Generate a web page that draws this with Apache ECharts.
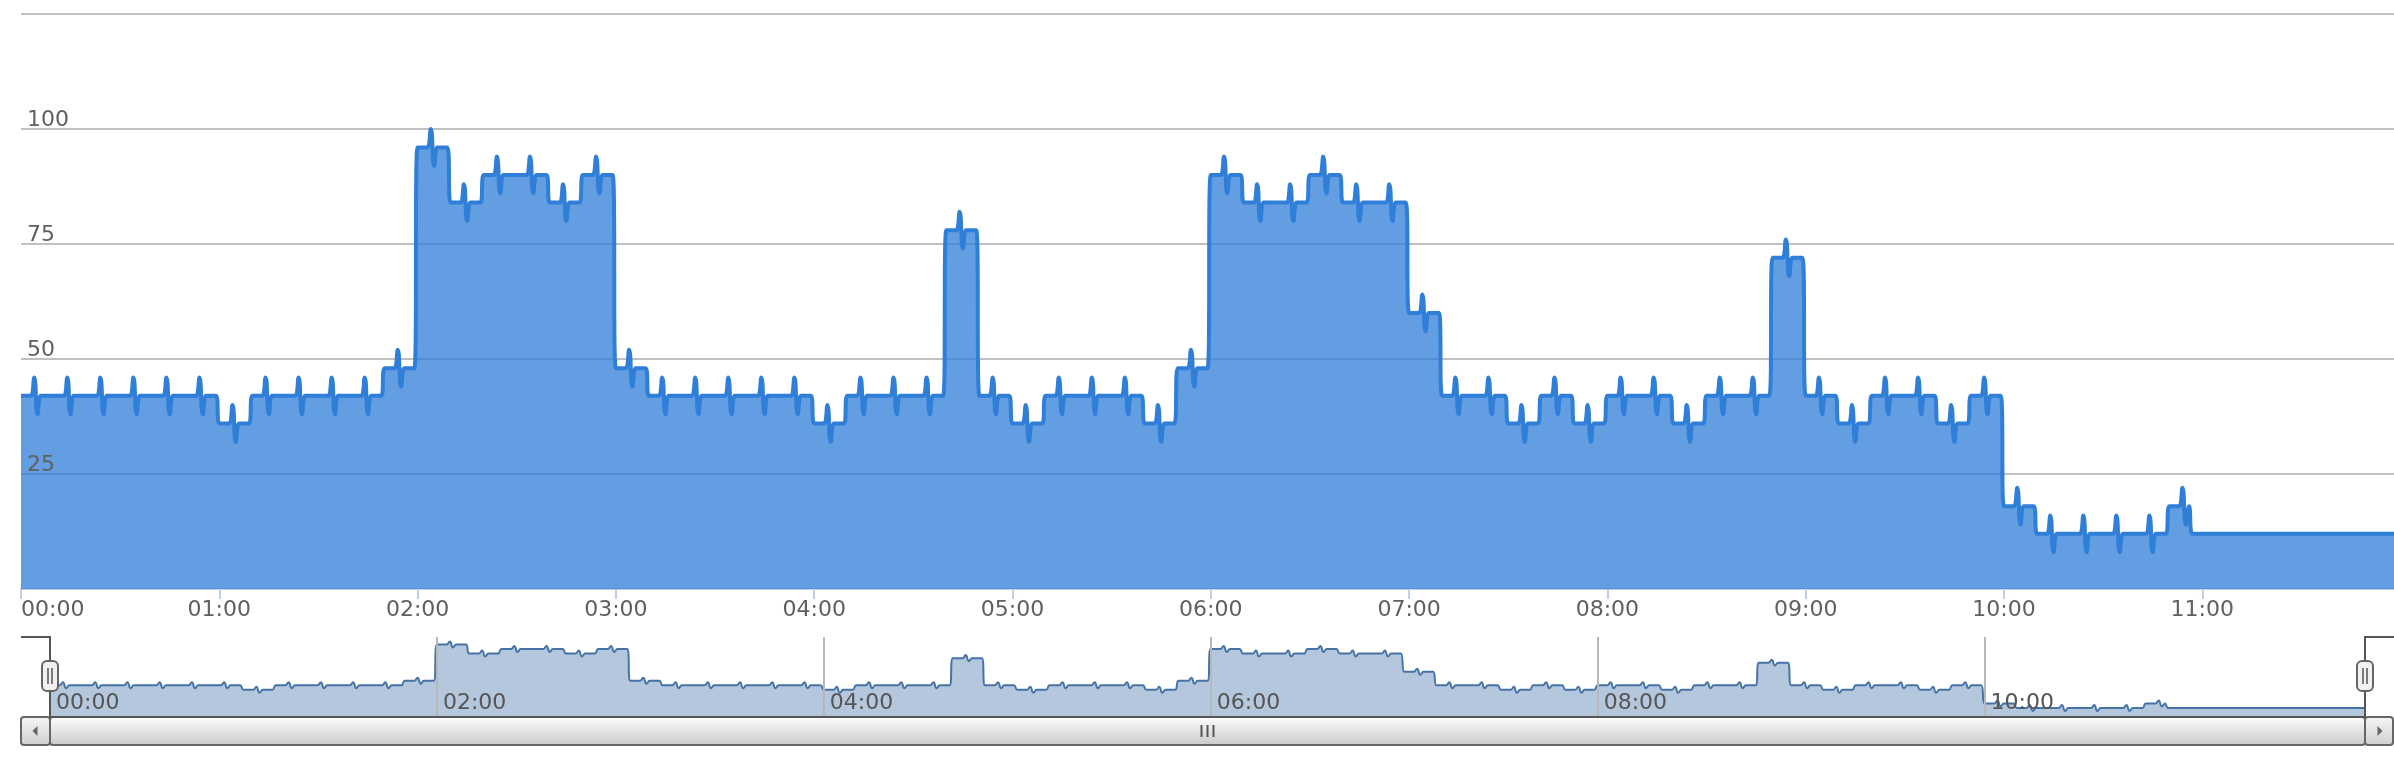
<!DOCTYPE html>
<html>
<head>
<meta charset="utf-8">
<script src="https://cdn.jsdelivr.net/npm/echarts@6/dist/echarts.min.js"></script>
<style>
html,body{margin:0;padding:0;background:#ffffff;}
#chart{width:2394px;height:766px;}
</style>
</head>
<body>
<div id="chart"></div>
<script>
// ---- data ----
// 10-minute blocks (start time) and their levels
const blockStarts = [
  '00:00','00:10','00:20','00:30','00:40','00:50',
  '01:00','01:10','01:20','01:30','01:40','01:50',
  '02:00','02:10','02:20','02:30','02:40','02:50',
  '03:00','03:10','03:20','03:30','03:40','03:50',
  '04:00','04:10','04:20','04:30','04:40','04:50',
  '05:00','05:10','05:20','05:30','05:40','05:50',
  '06:00','06:10','06:20','06:30','06:40','06:50',
  '07:00','07:10','07:20','07:30','07:40','07:50',
  '08:00','08:10','08:20','08:30','08:40','08:50',
  '09:00','09:10','09:20','09:30','09:40','09:50',
  '10:00','10:10','10:20','10:30','10:40','10:50'
];
const blockLevels = [
  42,42,42,42,42,42,
  36,42,42,42,42,48,
  96,84,90,90,84,90,
  48,42,42,42,42,42,
  36,42,42,42,78,42,
  36,42,42,42,36,48,
  90,84,84,90,84,84,
  60,42,42,36,42,36,
  42,42,36,42,42,72,
  42,36,42,42,36,42,
  18,12,12,12,12,18
];
// size of the short up/down blip seen in every block (minute 4 up, minute 5 down)
const blockSpikes = [
  4,4,4,4,4,4, 4,4,4,4,4,4, 4,4,4,4,4,4, 4,4,4,4,4,4,
  4,4,4,4,4,4, 4,4,4,4,4,4, 4,4,4,4,4,4, 4,4,4,4,4,4,
  4,4,4,4,4,4, 4,4,4,4,4,4, 4,4,4,4,4,4
];
const tailStart = '10:57';
const tailEnd = '11:58';
const tailLevel = 12;

const mainTickLabels = ['00:00','01:00','02:00','03:00','04:00','05:00','06:00','07:00','08:00','09:00','10:00','11:00'];
const navTickLabels = ['00:00','02:00','04:00','06:00','08:00','10:00'];
const yTickLabels = ['25','50','75','100'];

// ---- build the per-minute table ----
function toMin(s){ const p = s.split(':'); return (+p[0])*60 + (+p[1]); }
const tailStartMin = toMin(tailStart);
const endMin = toMin(tailEnd);
const points = [];
blockStarts.forEach(function(lab, i){
  const t0 = toMin(lab);
  for (let m = 0; m < 10; m++) {
    const t = t0 + m;
    if (t >= tailStartMin) break;
    let v = blockLevels[i];
    if (m === 4) v += blockSpikes[i];
    if (m === 5) v -= blockSpikes[i];
    points.push([t, v]);
  }
});
points.push([tailStartMin, tailLevel]);
points.push([endMin, tailLevel]);

// ---- layout ----
const W = 2394, H = 766;
const MAIN = {left:21, right:0, top:14, bottom:177};
const NAV = {left:50, right:29, top:637, bottom:49};
const navX0 = NAV.left, navX1 = W - NAV.right, navY0 = NAV.top, navY1 = H - NAV.bottom;
const FONT = 'DejaVu Sans';

const chart = echarts.init(document.getElementById('chart'), null, {renderer:'canvas'});

const grad = function(c0, c1){
  return new echarts.graphic.LinearGradient(0,0,0,1,[{offset:0,color:c0},{offset:1,color:c1}]);
};

const sbTop = navY1, sbH = 28;
const graphics = [
  // scrollbar buttons
  {type:'rect', z:100, shape:{x:21, y:sbTop, width:navX0-21, height:sbH, r:3},
   style:{fill:grad('#f6f6f6','#cfcfcf'), stroke:'#666', lineWidth:2}},
  {type:'rect', z:100, shape:{x:navX1, y:sbTop, width:W-1-navX1, height:sbH, r:3},
   style:{fill:grad('#f6f6f6','#cfcfcf'), stroke:'#666', lineWidth:2}},
  // scrollbar bar
  {type:'rect', z:100, shape:{x:navX0, y:sbTop, width:navX1-navX0, height:sbH, r:3},
   style:{fill:grad('#ffffff','#c9c9c9'), stroke:'#666', lineWidth:2}},
  // arrows
  {type:'polygon', z:101, shape:{points:[[(21+navX0)/2+2, sbTop+sbH/2-5],[(21+navX0)/2+2, sbTop+sbH/2+5],[(21+navX0)/2-3, sbTop+sbH/2]]}, style:{fill:'#666'}},
  {type:'polygon', z:101, shape:{points:[[(navX1+W)/2-2, sbTop+sbH/2-5],[(navX1+W)/2-2, sbTop+sbH/2+5],[(navX1+W)/2+3, sbTop+sbH/2]]}, style:{fill:'#666'}},
  // rifles
  {type:'line', z:101, shape:{x1:(navX0+navX1)/2-6, y1:sbTop+8, x2:(navX0+navX1)/2-6, y2:sbTop+20}, style:{stroke:'#555', lineWidth:2}},
  {type:'line', z:101, shape:{x1:(navX0+navX1)/2,   y1:sbTop+8, x2:(navX0+navX1)/2,   y2:sbTop+20}, style:{stroke:'#555', lineWidth:2}},
  {type:'line', z:101, shape:{x1:(navX0+navX1)/2+6, y1:sbTop+8, x2:(navX0+navX1)/2+6, y2:sbTop+20}, style:{stroke:'#555', lineWidth:2}},
  // navigator outline
  {type:'polyline', z:102, shape:{points:[[21,navY0],[navX0,navY0],[navX0,navY1],[navX1,navY1],[navX1,navY0],[W,navY0]]},
   style:{stroke:'#555', lineWidth:2, fill:null}}
];
[navX0, navX1].forEach(function(x){
  const cy = (navY0 + navY1)/2 - 1;
  graphics.push({type:'rect', z:103, shape:{x:x-8, y:cy-15, width:16, height:30, r:5},
    style:{fill:'#f2f0f1', stroke:'#666', lineWidth:2}});
  graphics.push({type:'line', z:104, shape:{x1:x-2, y1:cy-8, x2:x-2, y2:cy+8}, style:{stroke:'#555', lineWidth:1.5}});
  graphics.push({type:'line', z:104, shape:{x1:x+2, y1:cy-8, x2:x+2, y2:cy+8}, style:{stroke:'#555', lineWidth:1.5}});
});

const yLabelFmt = function(v){ return yTickLabels.indexOf(String(v)) >= 0 ? String(v) : ''; };

const option = {
  animation:false,
  backgroundColor:'#ffffff',
  grid:[
    {left:MAIN.left, right:MAIN.right, top:MAIN.top, bottom:MAIN.bottom},
    {left:NAV.left, right:NAV.right, top:NAV.top, bottom:NAV.bottom}
  ],
  xAxis:[
    {type:'value', gridIndex:0, min:0, max:endMin, interval:60,
     axisLine:{show:true, onZero:false, lineStyle:{color:'#C0D0E0', width:2}},
     axisTick:{show:true, length:10, lineStyle:{color:'#C0D0E0', width:2}},
     splitLine:{show:false},
     axisLabel:{margin:10, color:'#606060', fontSize:22, fontFamily:FONT, alignMinLabel:'left', showMaxLabel:false,
       formatter:function(v){ return (v % 60 === 0 && mainTickLabels[v/60]) ? mainTickLabels[v/60] : ''; }}},
    {type:'value', gridIndex:1, min:0, max:endMin, interval:120, z:10,
     axisLine:{show:false}, axisTick:{show:false},
     splitLine:{show:true, lineStyle:{color:'#b8b8b8', width:2}},
     axisLabel:{inside:true, margin:3, align:'left', padding:[0,0,0,6], color:'#555', fontSize:22, fontFamily:FONT, showMaxLabel:false,
       formatter:function(v){ return (v % 120 === 0 && navTickLabels[v/120]) ? navTickLabels[v/120] : ''; }}}
  ],
  yAxis:[
    {type:'value', gridIndex:0, position:'left', min:0, max:125, interval:25,
     axisLine:{show:false}, axisTick:{show:false}, axisLabel:{show:false},
     splitLine:{show:true, lineStyle:{color:'#C0C0C0', width:2}}},
    {type:'value', gridIndex:1, min:0, max:106, show:false},
    {type:'value', gridIndex:0, position:'left', offset:0, min:0, max:125, interval:25, z:10,
     axisLine:{show:false}, axisTick:{show:false}, splitLine:{show:false},
     axisLabel:{inside:true, margin:6, align:'left', verticalAlign:'bottom', lineHeight:17, padding:0,
       color:'#606060', fontSize:22, fontFamily:FONT, showMinLabel:false, showMaxLabel:false,
       formatter:yLabelFmt}}
  ],
  series:[
    {type:'line', xAxisIndex:0, yAxisIndex:0, data:points, smooth:true, showSymbol:false, symbol:'none',
     lineStyle:{color:'#2f7ed8', width:4}, itemStyle:{color:'#2f7ed8'},
     areaStyle:{color:'#2f7ed8', opacity:0.75}, emphasis:{disabled:true}},
    {type:'line', xAxisIndex:1, yAxisIndex:1, data:points, smooth:true, showSymbol:false, symbol:'none',
     lineStyle:{color:'#4572a7', width:2}, itemStyle:{color:'#4572a7'},
     areaStyle:{color:'#4572a7', opacity:0.4}, emphasis:{disabled:true}}
  ],
  graphic:graphics
};
chart.setOption(option);
</script>
</body>
</html>
